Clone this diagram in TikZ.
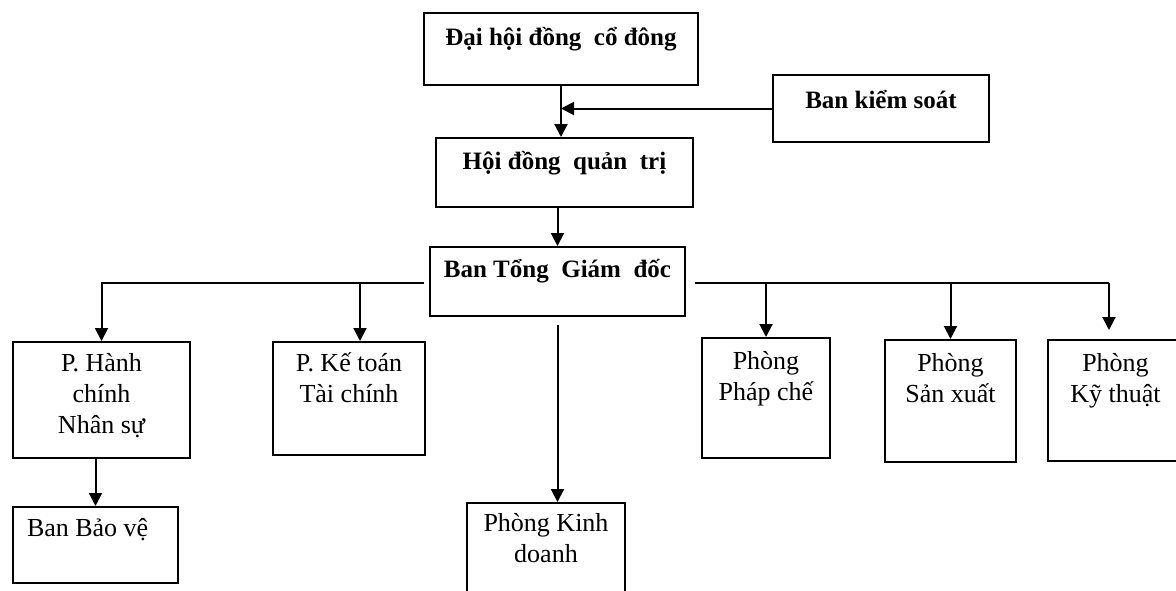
\documentclass[tikz,border=0pt]{standalone}
\usepackage{fontspec}
\setmainfont{Liberation Serif}
\usetikzlibrary{arrows.meta}

\begin{document}
\begin{tikzpicture}[x=1pt, y=-1pt, line width=2pt,
    every node/.style={font=\fontsize{26}{31}\selectfont},
    unit/.style={draw, anchor=north west, inner sep=0pt},
    head/.style={font=\fontsize{25}{31}\selectfont\bfseries},
    arr/.style={-{Triangle[length=13pt,width=13pt]}}]
    \useasboundingbox (0,0) rectangle (1176,590);

    % Top levels
    \node[unit, head] (dhdcd) at (423,12) {\parbox[c][72pt][t]{274pt}{\centering\vspace*{11pt}\strut Đại hội đồng~ cổ đông}};
    \node[unit, head] (bks) at (772,74) {\parbox[c][67pt][t]{216pt}{\centering\vspace*{12pt}\strut Ban kiểm soát}};
    \node[unit, head] (hdqt) at (435,137) {\parbox[c][69pt][t]{257pt}{\centering\vspace*{10pt}\strut Hội đồng~ quản~ trị}};
    \node[unit, head] (btgd) at (429,246) {\parbox[c][69pt][t]{255pt}{\centering\vspace*{9pt}\strut Ban Tổng~ Giám~ đốc}};

    % Departments
    \node[unit] (hcns) at (12,341) {\parbox[c][116pt][t]{177pt}{\centering\vspace*{8pt}\strut P. Hành\\chính\\Nhân sự}};
    \node[unit] (kttc) at (272,341) {\parbox[c][113pt][t]{152pt}{\centering\vspace*{8pt}\strut P. Kế toán\\Tài chính}};
    \node[unit] (bbv) at (12,506) {\parbox[c][76pt][t]{165pt}{\raggedright\vspace*{8pt}\strut\hspace*{14pt}Ban Bảo vệ}};
    \node[unit] (pkd) at (466,502) {\parbox[c][100pt][t]{158pt}{\centering\vspace*{7pt}\strut Phòng Kinh\\doanh}};
    \node[unit] (ppc) at (701,337) {\parbox[c][120pt][t]{128pt}{\centering\vspace*{10pt}\strut Phòng\\Pháp chế}};
    \node[unit] (psx) at (884,339) {\parbox[c][122pt][t]{131pt}{\centering\vspace*{10pt}\strut Phòng\\Sản xuất}};
    \node[unit] (pkt) at (1047,339) {\parbox[c][121pt][t]{135pt}{\centering\vspace*{10pt}\strut Phòng\\Kỹ thuật}};

    % Bus ends
    \coordinate (busl) at (424,283);
    \coordinate (busr) at (695,283);
    \coordinate (jkt) at (360,283);
    \coordinate (jkth) at (1109,283);

    % Arrows
    \draw[arr] (dhdcd.south) -- (dhdcd.south |- hdqt.north);
    \draw[arr] (bks.west) -- (bks.west -| dhdcd.south);
    \draw[arr] (btgd.north |- hdqt.south) -- (btgd.north);
    \draw[arr] (busl) -- (busl -| hcns.north) -- (hcns.north);
    \draw[arr] (jkt) -- (jkt |- kttc.north);
    \draw[arr] (bbv.north |- hcns.south) -- (bbv.north);
    \draw[arr, shorten <=8pt] (btgd.south) -- (btgd.south |- pkd.north);
    \draw (busr) -- (jkth);
    \draw[arr] (busr -| ppc.north) -- (ppc.north);
    \draw[arr] (busr -| psx.north) -- (psx.north);
    \draw[arr, shorten >=9pt] (jkth) -- (jkth |- pkt.north);
\end{tikzpicture}
\end{document}
